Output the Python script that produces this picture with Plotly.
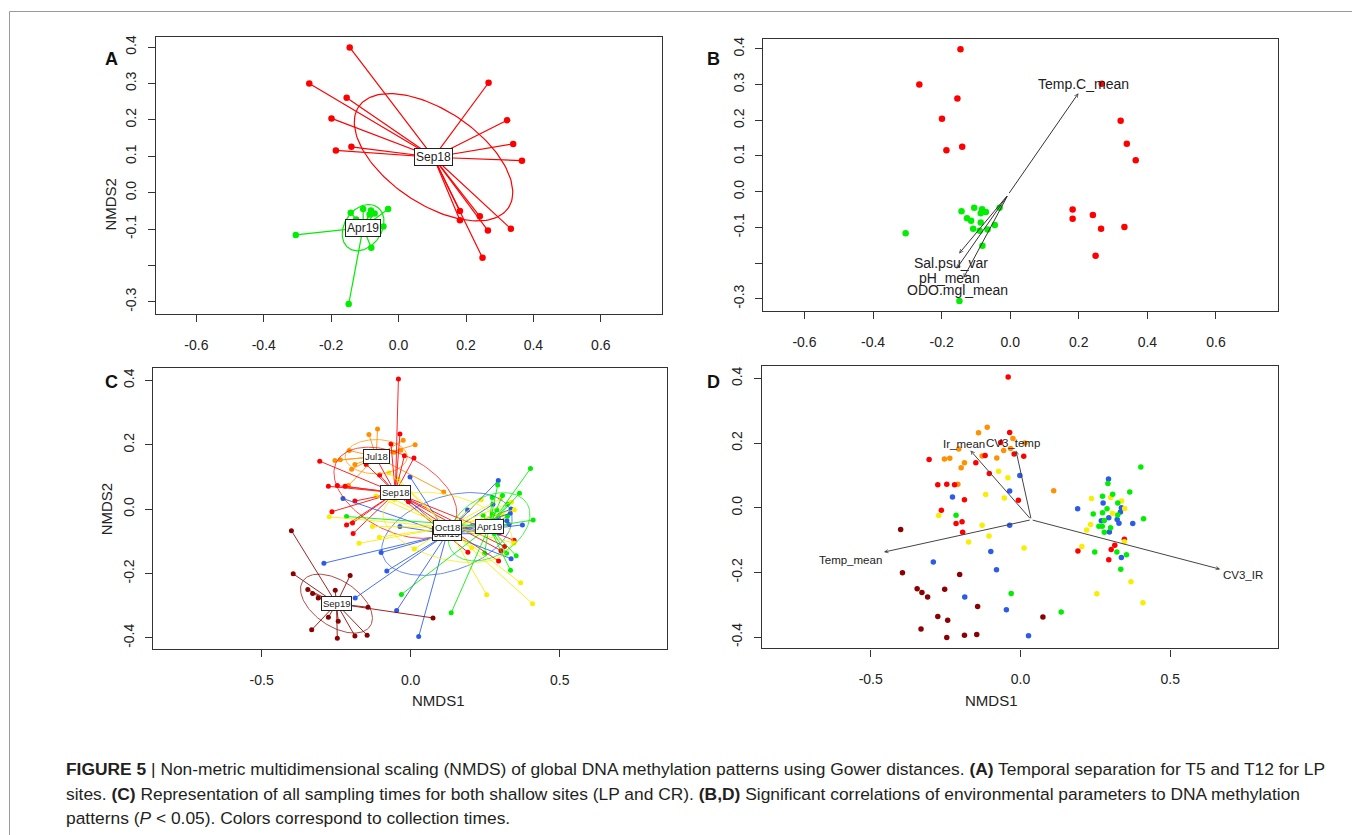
import numpy as np
import plotly.graph_objects as go

W, H = 1360, 835

# ---------------- panels A / B : LP sites (NMDS scores) ----------------
ab_sep18_x = [-0.145, -0.265, -0.154, -0.199, -0.140, -0.186, 0.267, 0.322, 0.340, 0.366,
              0.182, 0.182, 0.241, 0.265, 0.333, 0.249]
ab_sep18_y = [0.399, 0.300, 0.261, 0.204, 0.126, 0.116, 0.302, 0.199, 0.134, 0.088,
              -0.050, -0.076, -0.065, -0.104, -0.099, -0.179]
ab_apr19_x = [-0.305, -0.148, -0.081, -0.142, -0.105, -0.082, -0.086, -0.071, -0.031, -0.045,
              -0.126, -0.114, -0.086, -0.108, -0.089, -0.066]
ab_apr19_y = [-0.116, -0.306, -0.151, -0.055, -0.045, -0.049, -0.060, -0.057, -0.045, -0.093,
              -0.074, -0.081, -0.086, -0.104, -0.109, -0.106]

# envfit vectors for panel B
b_env_names = ["Temp.C_mean", "Sal.psu_var", "pH_mean", "ODO.mgl_mean"]
b_env_x = [0.199, -0.149, -0.157, -0.136]
b_env_y = [0.276, -0.173, -0.216, -0.241]
b_env_lab_x = [0.215, -0.172, -0.177, -0.153]
b_env_lab_y = [0.302, -0.199, -0.242, -0.274]
b_env_origin = (-0.006, -0.008)

# ---------------- panels C / D : all sampling times ----------------
jul18_x = [-0.111, -0.140, -0.025, -0.056, -0.033, 0.015, -0.206, -0.254, -0.236, -0.187,
           -0.198, -0.079, -0.128, -0.209, 0.111]
jul18_y = [0.249, 0.232, 0.214, 0.177, 0.183, 0.200, 0.182, 0.151, 0.153, 0.139,
           0.124, 0.154, 0.160, 0.073, 0.053]
sep18_x = [-0.041, -0.036, -0.066, -0.305, -0.118, -0.021, 0.011, -0.149, -0.104, -0.276,
           -0.246, -0.220, -0.187, -0.007, -0.264, -0.215, -0.195, -0.193, 0.192, 0.295,
           0.303, 0.315, 0.347]
sep18_y = [0.404, 0.233, 0.202, 0.149, 0.162, 0.166, 0.159, 0.139, 0.106, 0.071,
           0.073, 0.071, 0.025, 0.023, -0.008, -0.049, -0.043, -0.076, -0.134, -0.161,
           -0.129, -0.116, -0.097]
oct18_x = [-0.073, -0.042, -0.116, -0.054, -0.273, -0.128, -0.105, -0.173, 0.012, 0.237,
           0.301, 0.338, 0.348, 0.307, 0.234, 0.221, 0.205, 0.347, 0.369, 0.255, 0.409]
oct18_y = [0.113, 0.093, 0.041, 0.030, -0.024, -0.054, -0.087, -0.106, -0.124, 0.029,
           0.032, 0.021, -0.002, -0.017, -0.052, -0.069, -0.120, -0.105, -0.229, -0.266, -0.294]
jan19_x = [-0.002, -0.036, -0.227, -0.036, -0.099, -0.291, -0.080, -0.186, -0.047, 0.027,
           0.191, 0.294, 0.276, 0.337, 0.334, 0.270, 0.295, 0.323, 0.329, 0.375, 0.297, 0.337]
jan19_y = [0.100, 0.052, 0.033, -0.054, -0.135, -0.168, -0.192, -0.276, -0.315, -0.396,
           -0.003, 0.089, 0.015, 0.000, -0.013, -0.040, -0.031, -0.036, -0.048, -0.049, -0.075, -0.154]
apr19_x = [0.402, 0.292, 0.308, 0.365, 0.274, 0.325, 0.289, 0.274, 0.243, 0.325,
           0.280, 0.411, 0.262, 0.273, 0.301, 0.280, 0.248, 0.322, 0.354, 0.335,
           -0.215, -0.031, 0.136]
apr19_y = [0.126, 0.075, 0.042, 0.049, 0.036, 0.015, -0.003, -0.015, -0.019, -0.022,
           -0.039, -0.034, -0.057, -0.057, -0.062, -0.076, -0.137, -0.137, -0.145, -0.190,
           -0.023, -0.265, -0.322]
sep19_x = [-0.400, -0.394, -0.203, -0.345, -0.329, -0.310, -0.253, -0.143, -0.276, -0.243,
           -0.332, -0.246, -0.187, -0.146, 0.075]
sep19_y = [-0.067, -0.201, -0.206, -0.250, -0.262, -0.276, -0.252, -0.305, -0.336, -0.348,
           -0.375, -0.401, -0.394, -0.392, -0.338]

# envfit vectors for panel D
d_env_names = ["Temp_mean", "CV3_IR", "Ir_mean", "CV3_temp"]
d_env_x = [-0.456, 0.667, -0.167, -0.015]
d_env_y = [-0.137, -0.190, 0.177, 0.177]
d_env_lab_x = [-0.567, 0.743, -0.189, -0.024]
d_env_lab_y = [-0.162, -0.207, 0.198, 0.200]
d_env_origin = (0.036, -0.037)

COL = {"Jul18": "#FF9000", "Sep18": "#FF0000", "Oct18": "#F7EE00",
       "Jan19": "#2B5BE8", "Apr19": "#00EE00", "Sep19": "#8B0000"}

ab_groups = [("Sep18", ab_sep18_x, ab_sep18_y), ("Apr19", ab_apr19_x, ab_apr19_y)]
# Jan19 before Oct18 so the Oct18 label sits on top
cd_groups = [("Jul18", jul18_x, jul18_y), ("Sep18", sep18_x, sep18_y),
             ("Jan19", jan19_x, jan19_y), ("Oct18", oct18_x, oct18_y),
             ("Apr19", apr19_x, apr19_y), ("Sep19", sep19_x, sep19_y)]

FONT = "Liberation Sans, Arial, sans-serif"


def sd_ellipse(x, y, n=150):
    # standard-deviation ellipse, like vegan::ordiellipse(kind="sd")
    x = np.asarray(x)
    y = np.asarray(y)
    vals, vecs = np.linalg.eigh(np.cov(x, y))
    t = np.linspace(0, 2 * np.pi, n)
    pts = vecs @ (np.sqrt(vals)[:, None] * np.vstack([np.cos(t), np.sin(t)]))
    return x.mean() + pts[0], y.mean() + pts[1]


def spider(x, y):
    cx, cy = np.mean(x), np.mean(y)
    xs, ys = [], []
    for a, b in zip(x, y):
        xs += [cx, a, None]
        ys += [cy, b, None]
    return xs, ys


def px(v):
    return v / W


def py(v):
    return 1 - v / H


fig = go.Figure()

# ---- A : points + spiders + ellipses + centroid labels
for name, gx, gy in ab_groups:
    sx, sy = spider(gx, gy)
    fig.add_trace(go.Scatter(x=sx, y=sy, mode="lines", line=dict(color=COL[name], width=1.2),
                             xaxis="x", yaxis="y", hoverinfo="skip"))
    ex, ey = sd_ellipse(gx, gy)
    fig.add_trace(go.Scatter(x=ex, y=ey, mode="lines", line=dict(color=COL[name], width=1.2),
                             xaxis="x", yaxis="y", hoverinfo="skip"))
    fig.add_trace(go.Scatter(x=gx, y=gy, mode="markers", marker=dict(color=COL[name], size=6.5),
                             xaxis="x", yaxis="y"))
    fig.add_annotation(x=np.mean(gx), y=np.mean(gy), xref="x", yref="y", text=name,
                       showarrow=False, bgcolor="white", bordercolor="#222", borderwidth=1,
                       borderpad=1, font=dict(family=FONT, size=12, color="#222"))

# ---- B : points + env vectors
for name, gx, gy in ab_groups:
    fig.add_trace(go.Scatter(x=gx, y=gy, mode="markers", marker=dict(color=COL[name], size=6.5),
                             xaxis="x2", yaxis="y2"))
for i, nm in enumerate(b_env_names):
    fig.add_annotation(x=b_env_x[i], y=b_env_y[i], ax=b_env_origin[0], ay=b_env_origin[1],
                       xref="x2", yref="y2", axref="x2", ayref="y2", text="", showarrow=True,
                       arrowhead=5, arrowsize=0.7, arrowwidth=1, arrowcolor="#333")
    fig.add_annotation(x=b_env_lab_x[i], y=b_env_lab_y[i], xref="x2", yref="y2", text=nm,
                       showarrow=False, font=dict(family=FONT, size=14, color="#222"))

# ---- C : points + spiders + ellipses + centroid labels
for name, gx, gy in cd_groups:
    fig.add_trace(go.Scatter(x=gx, y=gy, mode="markers", marker=dict(color=COL[name], size=5),
                             xaxis="x3", yaxis="y3"))
for name, gx, gy in cd_groups:
    sx, sy = spider(gx, gy)
    fig.add_trace(go.Scatter(x=sx, y=sy, mode="lines", line=dict(color=COL[name], width=1),
                             opacity=0.85, xaxis="x3", yaxis="y3", hoverinfo="skip"))
    ex, ey = sd_ellipse(gx, gy)
    fig.add_trace(go.Scatter(x=ex, y=ey, mode="lines", line=dict(color=COL[name], width=1),
                             opacity=0.7, xaxis="x3", yaxis="y3", hoverinfo="skip"))
for name, gx, gy in cd_groups:
    fig.add_annotation(x=np.mean(gx), y=np.mean(gy), xref="x3", yref="y3", text=name,
                       showarrow=False, bgcolor="white", bordercolor="#222", borderwidth=1,
                       borderpad=1, font=dict(family=FONT, size=9.5, color="#222"))

# ---- D : points + env vectors
for name, gx, gy in cd_groups:
    fig.add_trace(go.Scatter(x=gx, y=gy, mode="markers", marker=dict(color=COL[name], size=5.5),
                             xaxis="x4", yaxis="y4"))
for i, nm in enumerate(d_env_names):
    fig.add_annotation(x=d_env_x[i], y=d_env_y[i], ax=d_env_origin[0], ay=d_env_origin[1],
                       xref="x4", yref="y4", axref="x4", ayref="y4", text="", showarrow=True,
                       arrowhead=5, arrowsize=0.7, arrowwidth=1, arrowcolor="#444")
    fig.add_annotation(x=d_env_lab_x[i], y=d_env_lab_y[i], xref="x4", yref="y4", text=nm,
                       showarrow=False, font=dict(family=FONT, size=11.5, color="#222"))

# ---- axes
ab_xticks = [-0.6, -0.4, -0.2, 0.0, 0.2, 0.4, 0.6]
ab_yticks = [-0.3, -0.2, -0.1, 0.0, 0.1, 0.2, 0.3, 0.4]
ab_ytext = ["-0.3", "", "-0.1", "0.0", "0.1", "0.2", "0.3", "0.4"]
cd_ticks = [-0.5, 0.0, 0.5]
cd_yticks = [-0.4, -0.2, 0.0, 0.2, 0.4]


def ax_style(rng, dom, vals, texts, anchor, vertical=False):
    d = dict(range=rng, domain=dom, tickvals=vals, ticktext=texts, anchor=anchor,
             showgrid=False, zeroline=False, showline=True, mirror=True,
             linecolor="#333", linewidth=1.2, ticks="outside", ticklen=7,
             tickcolor="#333", tickwidth=1.2,
             tickfont=dict(family=FONT, size=14, color="#222"))
    if vertical:
        d.update(tickangle=-90, ticklabelstandoff=6)
    else:
        d.update(ticklabelstandoff=11)
    return d


ab_xr = [-0.720, 0.780]
ab_yr = [-0.334, 0.427]
cd_xr = [-0.863, 0.859]
cd_yr = [-0.435, 0.437]

fig.update_layout(
    xaxis=ax_style(ab_xr, [px(147.9), px(653.5)], ab_xticks, [f"{v:.1f}" for v in ab_xticks], "y"),
    yaxis=ax_style(ab_yr, [py(305), py(27.3)], ab_yticks, ab_ytext, "x", True),
    xaxis2=ax_style(ab_xr, [px(755.3), px(1269.7)], ab_xticks, [f"{v:.1f}" for v in ab_xticks], "y2"),
    yaxis2=ax_style(ab_yr, [py(301.7), py(29.3)], ab_yticks, ab_ytext, "x2", True),
    xaxis3=ax_style(cd_xr, [px(145.4), px(658.7)], cd_ticks, [f"{v:.1f}" for v in cd_ticks], "y3"),
    yaxis3=ax_style(cd_yr, [py(640.7), py(359.3)], cd_yticks, [f"{v:.1f}" for v in cd_yticks], "x3", True),
    xaxis4=ax_style(cd_xr, [px(754), px(1269.7)], cd_ticks, [f"{v:.1f}" for v in cd_ticks], "y4"),
    yaxis4=ax_style(cd_yr, [py(640), py(357.3)], cd_yticks, [f"{v:.1f}" for v in cd_yticks], "x4", True),
)

# ---- panel letters, axis titles
for letter, lx, ly in [("A", 95, 37), ("B", 705, 37), ("C", 95, 373), ("D", 705, 373)]:
    fig.add_annotation(x=px(lx), y=py(ly), xref="paper", yref="paper", text=f"<b>{letter}</b>",
                       showarrow=False, font=dict(family=FONT, size=18, color="#111"))
for tx, ty, ang in [(92, 166, -90), (88, 500, -90)]:
    fig.add_annotation(x=px(tx), y=py(ty), xref="paper", yref="paper", text="NMDS2", textangle=ang,
                       showarrow=False, font=dict(family=FONT, size=15, color="#222"))
for tx in [402, 1012]:
    fig.add_annotation(x=px(tx), y=py(703), xref="paper", yref="paper", text="NMDS1",
                       showarrow=False, font=dict(family=FONT, size=15, color="#222"))

# ---- caption
caption = [
    "<b>FIGURE 5</b> | Non-metric multidimensional scaling (NMDS) of global DNA methylation patterns "
    "using Gower distances. <b>(A)</b> Temporal separation for T5 and T12 for LP",
    "sites. <b>(C)</b> Representation of all sampling times for both shallow sites (LP and CR). "
    "<b>(B,D)</b> Significant correlations of environmental parameters to DNA methylation",
    "patterns (<i>P</i> &lt; 0.05). Colors correspond to collection times.",
]
for i, line in enumerate(caption):
    fig.add_annotation(x=px(56), y=py(761 + 24.5 * i), xref="paper", yref="paper", text=line,
                       showarrow=False, xanchor="left", yanchor="middle",
                       font=dict(family="Liberation Sans Narrow, Arial Narrow, Liberation Sans, sans-serif",
                                 size=17.4, color="#231f20"))

fig.add_shape(type="rect", xref="paper", yref="paper", x0=px(1.5), x1=px(1356), y0=py(832), y1=py(1.5),
              line=dict(color="#9a9a9a", width=1))

fig.update_layout(width=W, height=H, margin=dict(l=0, r=0, t=0, b=0), showlegend=False,
                  plot_bgcolor="white", paper_bgcolor="white")

fig.write_html("out.html")
